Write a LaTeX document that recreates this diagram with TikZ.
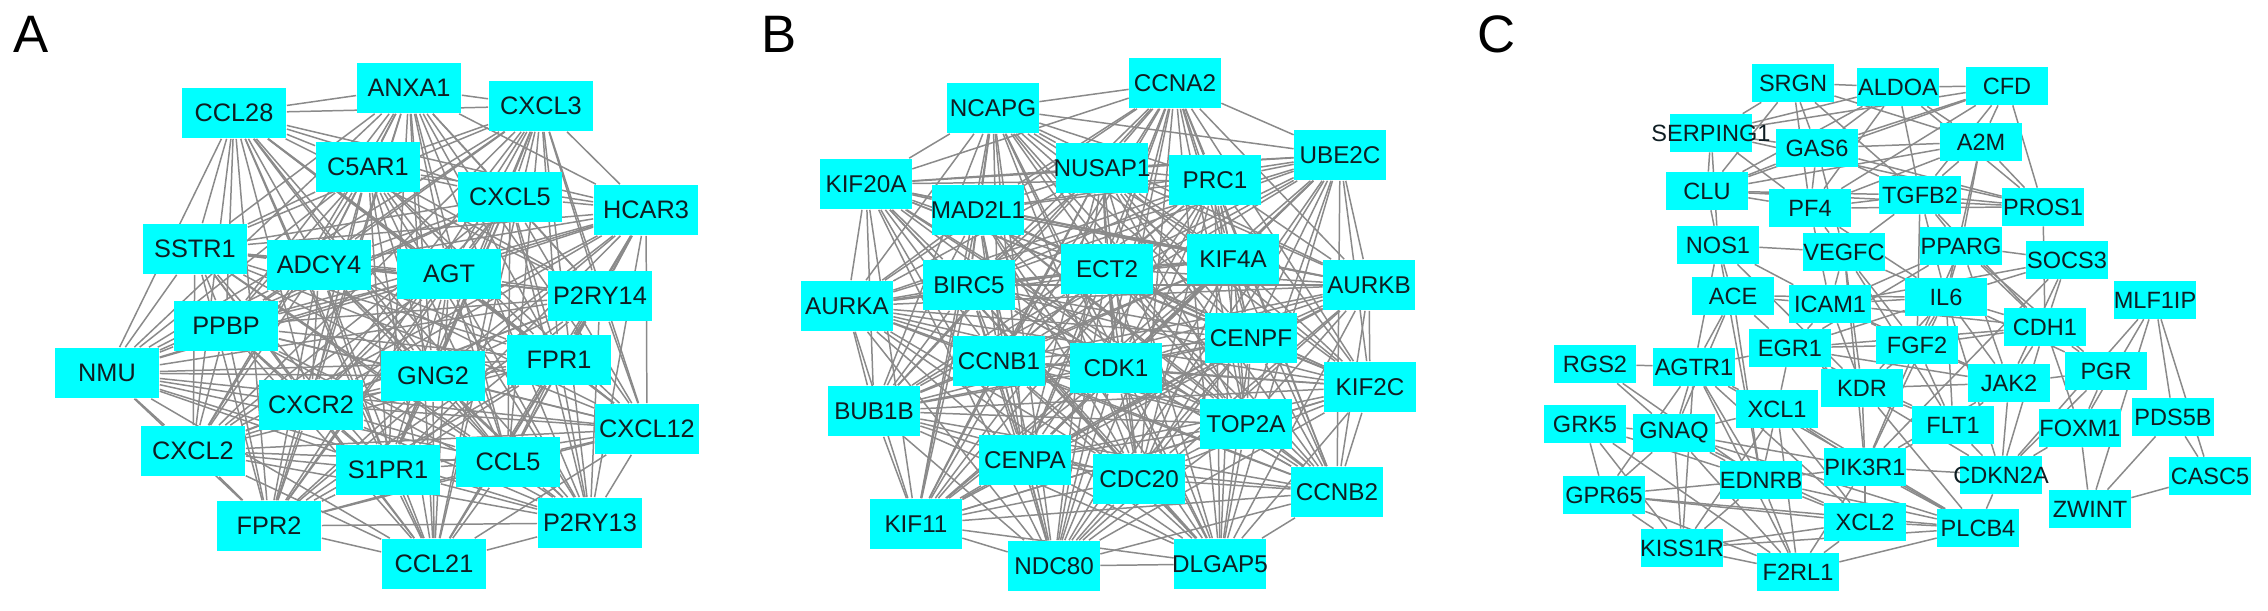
\documentclass[tikz,border=0pt]{standalone}
\usepackage{fontspec}
\setmainfont{Liberation Sans}
\usetikzlibrary{backgrounds}
\definecolor{nodecyan}{RGB}{0,255,255}
\definecolor{edgegray}{RGB}{138,138,138}
\definecolor{gtxt}{RGB}{15,30,35}
\newcommand{\gl}[1]{\makebox[0pt]{#1}}
\begin{document}
\begin{tikzpicture}[x=0.02cm,y=-0.02cm,
  gene/.style={rectangle,fill=nodecyan,inner sep=0pt,text=gtxt},
  geneA/.style={gene,minimum width=2.1cm,minimum height=1.02cm,font=\fontsize{14.4}{16}\selectfont},
  geneB/.style={gene,minimum width=1.84cm,minimum height=1.02cm,font=\fontsize{13.8}{16}\selectfont},
  geneC/.style={gene,minimum width=1.64cm,minimum height=0.76cm,font=\fontsize{13.4}{16}\selectfont},
  link/.style={draw=edgegray,line width=0.85pt},
  panel/.style={font=\fontsize{30}{34}\selectfont,inner sep=0pt}]
\useasboundingbox (0,0) rectangle (2268,611);

% panel labels
\node[panel] (labA) at (31,34) {A};
\node[panel] (labB) at (779,34) {B};
\node[panel] (labC) at (1497,34) {C};

% ---------------- Panel A ----------------
\node[geneA] (ANXA1)  at (409,88)  {\gl{ANXA1}};
\node[geneA] (CCL28)  at (234,113) {\gl{CCL28}};
\node[geneA] (CXCL3)  at (541,106) {\gl{CXCL3}};
\node[geneA] (C5AR1)  at (368,167) {\gl{C5AR1}};
\node[geneA] (CXCL5)  at (510,197) {\gl{CXCL5}};
\node[geneA] (HCAR3)  at (646,210) {\gl{HCAR3}};
\node[geneA] (SSTR1)  at (195,249) {\gl{SSTR1}};
\node[geneA] (ADCY4)  at (319,265) {\gl{ADCY4}};
\node[geneA] (AGT)    at (449,274) {\gl{AGT}};
\node[geneA] (P2RY14) at (600,296) {\gl{P2RY14}};
\node[geneA] (PPBP)   at (226,326) {\gl{PPBP}};
\node[geneA] (NMU)    at (107,373) {\gl{NMU}};
\node[geneA] (GNG2)   at (433,376) {\gl{GNG2}};
\node[geneA] (FPR1)   at (559,360) {\gl{FPR1}};
\node[geneA] (CXCR2)  at (311,405) {\gl{CXCR2}};
\node[geneA] (CXCL2)  at (193,451) {\gl{CXCL2}};
\node[geneA] (CXCL12) at (647,429) {\gl{CXCL12}};
\node[geneA] (S1PR1)  at (388,470) {\gl{S1PR1}};
\node[geneA] (CCL5)   at (508,462) {\gl{CCL5}};
\node[geneA] (FPR2)   at (269,526) {\gl{FPR2}};
\node[geneA] (P2RY13) at (590,523) {\gl{P2RY13}};
\node[geneA] (CCL21)  at (434,564) {\gl{CCL21}};

% ---------------- Panel B ----------------
\node[geneB] (CCNA2)  at (1175,83)  {\gl{CCNA2}};
\node[geneB] (NCAPG)  at (993,108)  {\gl{NCAPG}};
\node[geneB] (UBE2C)  at (1340,155) {\gl{UBE2C}};
\node[geneB] (KIF20A) at (866,184)  {\gl{KIF20A}};
\node[geneB] (NUSAP1) at (1102,168) {\gl{NUSAP1}};
\node[geneB] (PRC1)   at (1215,180) {\gl{PRC1}};
\node[geneB] (MAD2L1) at (978,210)  {\gl{MAD2L1}};
\node[geneB] (ECT2)   at (1107,269) {\gl{ECT2}};
\node[geneB] (KIF4A)  at (1233,259) {\gl{KIF4A}};
\node[geneB] (AURKB)  at (1369,285) {\gl{AURKB}};
\node[geneB] (BIRC5)  at (969,285)  {\gl{BIRC5}};
\node[geneB] (AURKA)  at (847,306)  {\gl{AURKA}};
\node[geneB] (CENPF)  at (1251,338) {\gl{CENPF}};
\node[geneB] (CCNB1)  at (999,361)  {\gl{CCNB1}};
\node[geneB] (CDK1)   at (1116,368) {\gl{CDK1}};
\node[geneB] (KIF2C)  at (1370,387) {\gl{KIF2C}};
\node[geneB] (BUB1B)  at (874,411)  {\gl{BUB1B}};
\node[geneB] (TOP2A)  at (1246,424) {\gl{TOP2A}};
\node[geneB] (CENPA)  at (1025,460) {\gl{CENPA}};
\node[geneB] (CDC20)  at (1139,479) {\gl{CDC20}};
\node[geneB] (CCNB2)  at (1337,492) {\gl{CCNB2}};
\node[geneB] (KIF11)  at (916,524)  {\gl{KIF11}};
\node[geneB] (NDC80)  at (1054,566) {\gl{NDC80}};
\node[geneB] (DLGAP5) at (1220,564) {\gl{DLGAP5}};

% ---------------- Panel C ----------------
\node[geneC] (SRGN)     at (1793,83)  {\gl{SRGN}};
\node[geneC] (ALDOA)    at (1898,87)  {\gl{ALDOA}};
\node[geneC] (CFD)      at (2007,86)  {\gl{CFD}};
\node[geneC] (SERPING1) at (1711,133) {\gl{SERPING1}};
\node[geneC] (GAS6)     at (1817,148) {\gl{GAS6}};
\node[geneC] (A2M)      at (1981,142) {\gl{A2M}};
\node[geneC] (CLU)      at (1707,191) {\gl{CLU}};
\node[geneC] (PF4)      at (1810,208) {\gl{PF4}};
\node[geneC] (TGFB2)    at (1920,195) {\gl{TGFB2}};
\node[geneC] (PROS1)    at (2043,207) {\gl{PROS1}};
\node[geneC] (NOS1)     at (1718,245) {\gl{NOS1}};
\node[geneC] (VEGFC)    at (1844,252) {\gl{VEGFC}};
\node[geneC] (PPARG)    at (1961,246) {\gl{PPARG}};
\node[geneC] (SOCS3)    at (2067,260) {\gl{SOCS3}};
\node[geneC] (ACE)      at (1733,296) {\gl{ACE}};
\node[geneC] (ICAM1)    at (1830,304) {\gl{ICAM1}};
\node[geneC] (IL6)      at (1946,297) {\gl{IL6}};
\node[geneC] (MLF1IP)   at (2155,300) {\gl{MLF1IP}};
\node[geneC] (CDH1)     at (2045,327) {\gl{CDH1}};
\node[geneC] (EGR1)     at (1790,348) {\gl{EGR1}};
\node[geneC] (FGF2)     at (1917,345) {\gl{FGF2}};
\node[geneC] (RGS2)     at (1595,364) {\gl{RGS2}};
\node[geneC] (AGTR1)    at (1694,367) {\gl{AGTR1}};
\node[geneC] (PGR)      at (2106,371) {\gl{PGR}};
\node[geneC] (JAK2)     at (2009,383) {\gl{JAK2}};
\node[geneC] (KDR)      at (1862,388) {\gl{KDR}};
\node[geneC] (XCL1)     at (1777,409) {\gl{XCL1}};
\node[geneC] (GRK5)     at (1585,424) {\gl{GRK5}};
\node[geneC] (GNAQ)     at (1674,433) {\gl{GNAQ}};
\node[geneC] (FLT1)     at (1953,425) {\gl{FLT1}};
\node[geneC] (FOXM1)    at (2080,428) {\gl{FOXM1}};
\node[geneC] (PDS5B)    at (2173,417) {\gl{PDS5B}};
\node[geneC] (PIK3R1)   at (1865,467) {\gl{PIK3R1}};
\node[geneC] (EDNRB)    at (1761,480) {\gl{EDNRB}};
\node[geneC] (CDKN2A)   at (2001,475) {\gl{CDKN2A}};
\node[geneC] (CASC5)    at (2210,476) {\gl{CASC5}};
\node[geneC] (GPR65)    at (1604,495) {\gl{GPR65}};
\node[geneC] (ZWINT)    at (2090,509) {\gl{ZWINT}};
\node[geneC] (XCL2)     at (1865,522) {\gl{XCL2}};
\node[geneC] (PLCB4)    at (1978,528) {\gl{PLCB4}};
\node[geneC] (KISS1R)   at (1682,548) {\gl{KISS1R}};
\node[geneC] (F2RL1)    at (1798,572) {\gl{F2RL1}};

\begin{scope}[on background layer]
% Panel A: dense module
\foreach \u [count=\i] in {ANXA1,CCL28,CXCL3,C5AR1,CXCL5,HCAR3,SSTR1,ADCY4,AGT,P2RY14,PPBP,NMU,GNG2,FPR1,CXCR2,CXCL2,CXCL12,S1PR1,CCL5,FPR2,P2RY13,CCL21}{
  \foreach \v [count=\j] in {ANXA1,CCL28,CXCL3,C5AR1,CXCL5,HCAR3,SSTR1,ADCY4,AGT,P2RY14,PPBP,NMU,GNG2,FPR1,CXCR2,CXCL2,CXCL12,S1PR1,CCL5,FPR2,P2RY13,CCL21}{
    \ifnum\i<\j \draw[link] (\u) -- (\v);\fi
  }
}
% Panel B: dense module
\foreach \u [count=\i] in {CCNA2,NCAPG,UBE2C,KIF20A,NUSAP1,PRC1,MAD2L1,ECT2,KIF4A,AURKB,BIRC5,AURKA,CENPF,CCNB1,CDK1,KIF2C,BUB1B,TOP2A,CENPA,CDC20,CCNB2,KIF11,NDC80,DLGAP5}{
  \foreach \v [count=\j] in {CCNA2,NCAPG,UBE2C,KIF20A,NUSAP1,PRC1,MAD2L1,ECT2,KIF4A,AURKB,BIRC5,AURKA,CENPF,CCNB1,CDK1,KIF2C,BUB1B,TOP2A,CENPA,CDC20,CCNB2,KIF11,NDC80,DLGAP5}{
    \ifnum\i<\j \draw[link] (\u) -- (\v);\fi
  }
}
% Panel C
\foreach \u/\v in {
 SRGN/ALDOA, ALDOA/CFD, SRGN/SERPING1, SRGN/GAS6, SRGN/PF4, SRGN/A2M, SRGN/CLU, SRGN/TGFB2,
 ALDOA/GAS6, ALDOA/A2M, ALDOA/PF4, ALDOA/TGFB2, ALDOA/CLU, ALDOA/SERPING1, ALDOA/PROS1,
 CFD/A2M, CFD/SERPING1, CFD/CLU, CFD/PROS1, CFD/GAS6, CFD/TGFB2, CFD/PF4,
 A2M/GAS6, A2M/PF4, A2M/TGFB2, A2M/PROS1, A2M/CLU, A2M/IL6, A2M/PPARG,
 GAS6/PF4, GAS6/PROS1, GAS6/CLU, GAS6/SERPING1, GAS6/TGFB2, GAS6/VEGFC,
 PF4/TGFB2, PF4/PROS1, PF4/CLU, PF4/SERPING1, PF4/VEGFC, PF4/ICAM1, PF4/IL6,
 TGFB2/PROS1, TGFB2/CLU, TGFB2/VEGFC, TGFB2/PPARG, TGFB2/IL6, TGFB2/FGF2, TGFB2/CDH1,
 PROS1/CLU, PROS1/SERPING1, PROS1/CDH1, CLU/SERPING1, CLU/NOS1,
 SERPING1/NOS1, NOS1/ACE, NOS1/VEGFC, NOS1/ICAM1, NOS1/AGTR1, NOS1/EDNRB, NOS1/KDR,
 ACE/AGTR1, ACE/ICAM1, ACE/EDNRB, ACE/IL6, ACE/EGR1, ACE/GNAQ,
 VEGFC/KDR, VEGFC/FLT1, VEGFC/FGF2, VEGFC/PIK3R1, VEGFC/IL6, VEGFC/ICAM1,
 ICAM1/IL6, ICAM1/PPARG, ICAM1/EGR1, ICAM1/FGF2, ICAM1/KDR, ICAM1/CDH1, ICAM1/SOCS3, ICAM1/JAK2,
 IL6/PPARG, IL6/SOCS3, IL6/JAK2, IL6/FGF2, IL6/KDR, IL6/FLT1, IL6/EGR1, IL6/CDH1, IL6/PIK3R1, IL6/PGR, IL6/CDKN2A,
 PPARG/SOCS3, PPARG/CDH1, PPARG/EGR1, PPARG/FGF2, PPARG/JAK2, PPARG/PGR,
 SOCS3/JAK2, SOCS3/CDH1, SOCS3/PIK3R1,
 CDH1/PGR, CDH1/CDKN2A, CDH1/JAK2, CDH1/FOXM1, CDH1/FGF2, CDH1/EGR1,
 EGR1/FGF2, EGR1/KDR, EGR1/FLT1, EGR1/AGTR1, EGR1/CDKN2A, EGR1/JAK2,
 FGF2/KDR, FGF2/FLT1, FGF2/PIK3R1, FGF2/JAK2,
 KDR/FLT1, KDR/PIK3R1, KDR/JAK2, KDR/PLCB4,
 JAK2/PIK3R1, JAK2/FLT1, JAK2/PGR, JAK2/CDKN2A,
 FLT1/PIK3R1, FLT1/CDKN2A,
 PGR/FOXM1, PGR/CDKN2A,
 FOXM1/CDKN2A, FOXM1/ZWINT, MLF1IP/FOXM1, MLF1IP/CDKN2A, MLF1IP/PDS5B, MLF1IP/CASC5, MLF1IP/ZWINT,
 PDS5B/CASC5, PDS5B/ZWINT, ZWINT/CASC5,
 CDKN2A/PIK3R1, CDKN2A/PLCB4,
 RGS2/AGTR1, RGS2/GNAQ, RGS2/EDNRB,
 AGTR1/GNAQ, AGTR1/EDNRB, AGTR1/GPR65, AGTR1/KISS1R, AGTR1/F2RL1, AGTR1/XCL1, AGTR1/XCL2, AGTR1/PLCB4,
 GRK5/GNAQ, GRK5/GPR65, GRK5/EDNRB, GRK5/KISS1R, GRK5/F2RL1,
 GNAQ/GPR65, GNAQ/EDNRB, GNAQ/KISS1R, GNAQ/F2RL1, GNAQ/XCL1, GNAQ/XCL2, GNAQ/PLCB4, GNAQ/PIK3R1,
 GPR65/EDNRB, GPR65/KISS1R, GPR65/F2RL1, GPR65/XCL2, GPR65/PLCB4,
 EDNRB/KISS1R, EDNRB/F2RL1, EDNRB/XCL1, EDNRB/XCL2, EDNRB/PLCB4, EDNRB/PIK3R1,
 KISS1R/F2RL1, KISS1R/XCL1, KISS1R/XCL2, KISS1R/PLCB4,
 F2RL1/XCL1, F2RL1/XCL2, F2RL1/PLCB4, F2RL1/PIK3R1,
 XCL1/XCL2, XCL1/PLCB4, XCL1/PIK3R1, XCL1/EGR1,
 XCL2/PLCB4, XCL2/PIK3R1, PLCB4/PIK3R1}
 {\draw[link] (\u) -- (\v);}
\end{scope}
\end{tikzpicture}
\end{document}
